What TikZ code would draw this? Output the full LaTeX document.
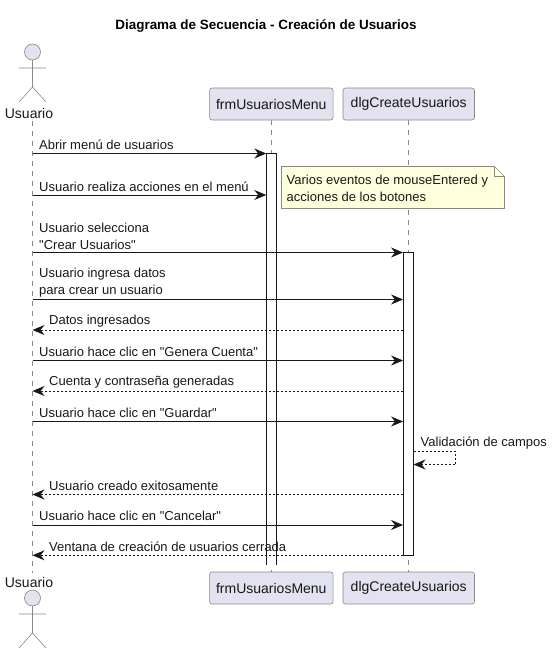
\documentclass[tikz,border=0pt]{standalone}
\usepackage{fontspec}
\setmainfont{Liberation Sans}
\newfontfamily\plainsans{Liberation Sans}
\usetikzlibrary{arrows.meta}
\definecolor{partfill}{HTML}{E2E2F0}
\definecolor{partline}{HTML}{888888}
\definecolor{notefill}{HTML}{FEFFDD}
\definecolor{ink}{HTML}{181818}
\tikzset{
  x=1pt,y=-1pt,
  partbox/.style={draw=partline,fill=partfill,rounded corners=2.5pt,line width=0.6pt,minimum height=32pt,inner sep=0pt,text=ink,font=\plainsans\fontsize{14}{16}\selectfont},
  lifeline/.style={draw=partline,line width=0.6pt,dash pattern=on 5pt off 5pt},
  actiontxt/.style={text=ink,font=\plainsans\fontsize{14}{16}\selectfont,inner sep=0pt},
  actorline/.style={draw=partline,line width=0.6pt},
  activation/.style={draw=ink,fill=white,line width=0.9pt,inner sep=0pt},
  openbar/.style={fill=white,inner sep=0pt},
  barline/.style={draw=ink,line width=0.9pt},
  msg/.style={draw=ink,line width=0.9pt,-{Stealth[length=12pt,width=10pt,inset=4pt]}},
  reply/.style={msg,dash pattern=on 2pt off 2pt},
  lbl/.style={font=\plainsans\fontsize{13}{16.7}\selectfont,text=ink,inner sep=0pt,align=left,anchor=south west},
}
\newcommand{\drawactor}[2]{%
  \draw[actorline,fill=partfill] (#1,#2) circle[radius=8];
  \draw[actorline] (#1,#2+8) -- (#1,#2+35) (#1-13.5,#2+16) -- (#1+13.5,#2+16)
    (#1-13.5,#2+50) -- (#1,#2+35) -- (#1+13.5,#2+50);
}
\begin{document}
\begin{tikzpicture}
\useasboundingbox (0,0) rectangle (554,654);
\coordinate (uT) at (32.5,121); \coordinate (uB) at (32.5,573);
\coordinate (fT) at (271.5,120); \coordinate (fB) at (271.5,572);
\coordinate (dT) at (408.5,120); \coordinate (dB) at (408.5,572);
\draw[lifeline] (uT) -- (uB);
\draw[lifeline] (fT) -- (fB);
\draw[lifeline] (dT) -- (dB);
\node[font=\plainsans\fontsize{13.45}{16}\selectfont\bfseries,text=black,inner sep=0pt] (title) at (266,25.5) {Diagrama de Secuencia - Creación de Usuarios};
\drawactor{32.5}{52}
\node[actiontxt] (uTop) at (29,113) {Usuario};
\drawactor{32.5}{598}
\node[actiontxt] (uBot) at (29,582) {Usuario};
\node[partbox,minimum width=123.5pt] (fTop) at (271.3,104) {frmUsuariosMenu};
\node[partbox,minimum width=131.5pt] (dTop) at (408.7,104) {dlgCreateUsuarios};
\node[partbox,minimum width=123.5pt] (fBot) at (271.3,588) {frmUsuariosMenu};
\node[partbox,minimum width=131.5pt] (dBot) at (408.7,588) {dlgCreateUsuarios};
\node[openbar,minimum width=10pt,minimum height=411pt] (fA) at (271.5,359) {};
\draw[barline] (fA.south west) -- (fA.north west) -- (fA.north east) -- (fA.south east);
\node[activation,minimum width=10pt,minimum height=303pt] (dA) at (408.5,403.5) {};
\path[draw=partline,fill=notefill,line width=0.6pt] (281.5,166.5) -- (494.5,166.5) -- (504.5,176.5) -- (504.5,208.5) -- (281.5,208.5) -- cycle;
\draw[draw=partline,line width=0.6pt] (494.5,166.5) -- (494.5,176.5) -- (504.5,176.5);
\node[lbl,anchor=north west] (note) at (286.5,175) {Varios eventos de mouseEntered y\\acciones de los botones};
\coordinate (m1) at (32.5,153.5);
\draw[msg] (m1) -- (fA.west |- m1);
\node[lbl] at (39,150) {Abrir menú de usuarios};
\coordinate (m2) at (32.5,195);
\draw[msg] (m2) -- (fA.west |- m2);
\node[lbl] at (39,191.5) {Usuario realiza acciones en el menú};
\coordinate (m3) at (32.5,252.5);
\draw[msg] (m3) -- (dA.west |- m3);
\node[lbl] at (39,250) {Usuario selecciona\\"Crear Usuarios"};
\coordinate (m4) at (32.5,299.5);
\draw[msg] (m4) -- (dA.west |- m4);
\node[lbl] at (39,297.5) {Usuario ingresa datos\\para crear un usuario};
\coordinate (m5) at (32.5,330);
\draw[reply] (dA.west |- m5) -- (m5);
\node[lbl] at (49,327.5) {Datos ingresados};
\coordinate (m6) at (32.5,360.5);
\draw[msg] (m6) -- (dA.west |- m6);
\node[lbl] at (39,357) {Usuario hace clic en "Genera Cuenta"};
\coordinate (m7) at (32.5,391);
\draw[reply] (dA.west |- m7) -- (m7);
\node[lbl] at (49,388) {Cuenta y contraseña generadas};
\coordinate (m8) at (32.5,421.5);
\draw[msg] (m8) -- (dA.west |- m8);
\node[lbl] at (39,418) {Usuario hace clic en "Guardar"};
\coordinate (s1) at (413.5,451.5); \coordinate (s2) at (413.5,464.5);
\draw[reply] (s1) -- (455.5,451.5) -- (455.5,464.5) -- (s2);
\node[lbl] at (420.5,449) {Validación de campos};
\coordinate (m9) at (32.5,494.5);
\draw[reply] (dA.west |- m9) -- (m9);
\node[lbl] at (49,491) {Usuario creado exitosamente};
\coordinate (m10) at (32.5,525);
\draw[msg] (m10) -- (dA.west |- m10);
\node[lbl] at (39,521) {Usuario hace clic en "Cancelar"};
\coordinate (m11) at (32.5,555.3);
\draw[reply] (dA.west |- m11) -- (m11);
\node[lbl] at (49,552) {Ventana de creación de usuarios cerrada};
\end{tikzpicture}
\end{document}
